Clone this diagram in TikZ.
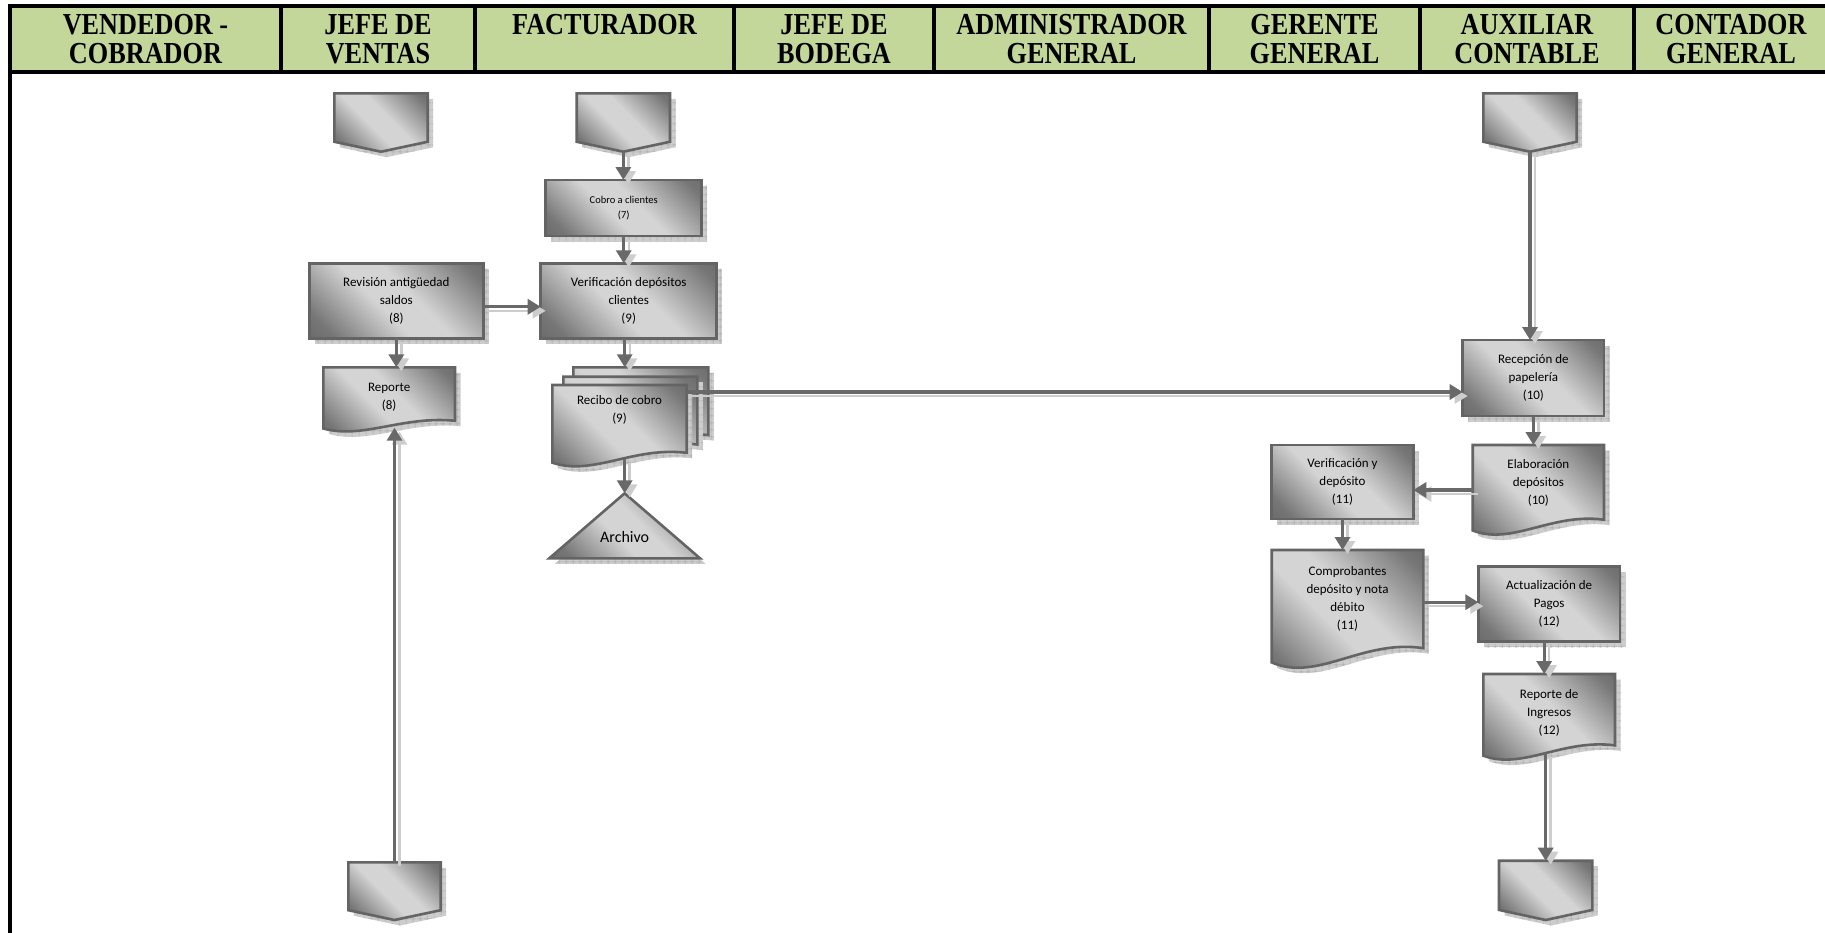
\documentclass[tikz,border=0pt]{standalone}
\usepackage{fontspec}
\setmainfont{Carlito}
\newfontfamily\hdrfont[FakeStretch=0.86]{Liberation Serif}
\usetikzlibrary{arrows.meta,patterns.meta}

\definecolor{hdrgreen}{RGB}{196,215,155}
\definecolor{edgegray}{RGB}{100,100,100}
\definecolor{sdark}{RGB}{88,88,88}
\definecolor{smid}{RGB}{118,118,118}
\definecolor{slight}{RGB}{212,212,212}
\definecolor{shdw}{RGB}{205,205,205}
\definecolor{shdwline}{RGB}{165,165,165}
\definecolor{flowgray}{RGB}{105,105,105}

\pgfdeclarehorizontalshading{steel}{100bp}{color(0bp)=(sdark); color(22bp)=(smid); color(44bp)=(slight); color(56bp)=(slight); color(80bp)=(smid); color(100bp)=(sdark)}

\tikzset{
  shapebody/.style={draw=edgegray, line width=2.6pt, line join=miter, shade, shading=steel, shading angle=45},
  shapeshadow/.style={preaction={fill=shdw}, pattern={Hatch[angle=0,distance=6.5pt,line width=0.5pt]}, pattern color=shdwline},
  txt/.style={font=\fontsize{13}{18}\selectfont, inner sep=0pt},
  smalltxt/.style={font=\fontsize{10.5}{15}\selectfont, inner sep=0pt},
  bigtxt/.style={font=\fontsize{16}{19}\selectfont, inner sep=0pt},
  hdr/.style={font=\hdrfont\bfseries\fontsize{30.5}{29}\selectfont, inner sep=0pt, anchor=base},
  flow/.style={draw=flowgray, line width=3.3pt, -{Triangle[width=15pt,length=13pt]}},
  flowshadow/.style={draw=shdw, line width=2.4pt, -{Triangle[width=15pt,length=13pt]}},
  frameline/.style={line width=4pt, draw=black},
}

% multi-line cell text
\newcommand\ml[1]{\begin{tabular}{@{}c@{}}#1\end{tabular}}
\newcommand\hl[1]{\begin{tabular}[t]{@{}c@{}}#1\end{tabular}}

% outlines of the flowchart symbols, given by top-left and bottom-right corners
\newcommand\boxpath[5]{\path[#1] (#2,#3) rectangle (#4,#5);}
\newcommand\docpath[5]{\path[#1] (#2,#3) -- (#4,#3) -- (#4,{#5-0.17*(#5-#3)})
  .. controls ({#2+0.6*(#4-#2)},{#5-0.25*(#5-#3)}) and ({#2+0.3*(#4-#2)},{#5+0.12*(#5-#3)}) .. (#2,{#5-0.05*(#5-#3)}) -- cycle;}
\newcommand\offpath[5]{\path[#1] (#2,#3) -- (#4,#3) -- (#4,{#3+0.83*(#5-#3)}) -- ({(#2+#4)/2},#5) -- (#2,{#3+0.83*(#5-#3)}) -- cycle;}
\newcommand\tripath[5]{\path[#1] ({(#2+#4)/2},#3) -- (#4,#5) -- (#2,#5) -- cycle;}

% named node covering a symbol
\newcommand\anchorbox[5]{\node[inner sep=0pt,outer sep=0pt,minimum width={(#4-#2)*1pt},minimum height={(#5-#3)*1pt}] (#1) at ({(#2+#4)/2},{(#3+#5)/2}) {};}

% symbol with its drop shadow and its named node
\newcommand\symb[6]{%
  #1{shapeshadow,shift={(5.5,5.5)}}{#3}{#4}{#5}{#6}%
  #1{shapebody}{#3}{#4}{#5}{#6}%
  \anchorbox{#2}{#3}{#4}{#5}{#6}}

% connector with its light shadow line
\newcommand\flowline[1]{%
  \begin{scope}[transform canvas={shift={(5pt,-4pt)}}]\draw[flowshadow] #1;\end{scope}
  \draw[flow] #1;}

\begin{document}
\begin{tikzpicture}[x=1pt,y=-1pt]
\useasboundingbox (0,0) rectangle (1825,932);

% ---- header row ----
\fill[hdrgreen] (10,6) rectangle (1832,71.5);
\draw[frameline] (8,6) -- (1832,6);
\draw[frameline] (10,4) -- (10,940);
\draw[frameline] (8,71.5) -- (1832,71.5);
\foreach \x in {281,475,734,934,1209,1420,1634}
  \draw[line width=3.6pt] (\x,6) -- (\x,71.5);

\node[hdr] (h1) at (145.5,34) {\hl{VENDEDOR -\\COBRADOR}};
\node[hdr] (h2) at (378,34) {\hl{JEFE DE\\VENTAS}};
\node[hdr] (h3) at (604.5,34) {\hl{FACTURADOR}};
\node[hdr] (h4) at (834,34) {\hl{JEFE DE\\BODEGA}};
\node[hdr] (h5) at (1071.5,34) {\hl{ADMINISTRADOR\\GENERAL}};
\node[hdr] (h6) at (1314.5,34) {\hl{GERENTE\\GENERAL}};
\node[hdr] (h7) at (1527,34) {\hl{AUXILIAR\\CONTABLE}};
\node[hdr] (h8) at (1731,34) {\hl{CONTADOR\\GENERAL}};

% ---- symbols ----
\symb\offpath{offTL}{334.3}{93.3}{427.7}{151.7}
\symb\offpath{offTF}{576.7}{93.3}{670}{151.7}
\symb\offpath{offTA}{1483.3}{93.3}{1576.7}{151.7}

\symb\boxpath{cobro}{545.7}{180}{701.7}{236}
\symb\boxpath{rev}{309.3}{263.3}{483.3}{338.3}
\symb\boxpath{ver}{540.7}{263.3}{716.7}{338.3}
\symb\docpath{rep8}{323.3}{367.3}{455}{431.7}

\symb\docpath{recB}{573.3}{367.3}{708.3}{449}
\symb\docpath{recM}{563.3}{376.7}{697.3}{458.4}
\symb\docpath{recF}{552.3}{385}{686.7}{466.7}
\symb\tripath{arch}{549.3}{493.3}{700}{558.3}

\symb\boxpath{recep}{1462.7}{340}{1604}{416}
\symb\docpath{elab}{1472.7}{445}{1604}{535}
\symb\boxpath{verdep}{1271.7}{445}{1413.3}{519}
\symb\docpath{comp}{1271.7}{550}{1423.3}{668.3}
\symb\boxpath{act}{1478.3}{566.7}{1620}{641.7}
\symb\docpath{repIng}{1483.3}{674}{1615}{760}

\symb\offpath{offBR}{1499}{860.7}{1592.3}{920}
\symb\offpath{offBL}{348.3}{862.3}{440.7}{920}

% ---- texts ----
\node[smalltxt] (cobro-t) at (cobro) {\ml{Cobro a clientes\\(7)}};
\node[txt] (rev-t) at (rev) {\ml{Revisión antigüedad\\saldos\\(8)}};
\node[txt] (ver-t) at (ver) {\ml{Verificación depósitos\\clientes\\(9)}};
\node[txt] (rep8-t) at ([yshift=3pt]rep8.center) {\ml{Reporte\\(8)}};
\node[txt] (recF-t) at ([yshift=16pt]recF.center) {\ml{Recibo de cobro\\(9)}};
\node[bigtxt] (arch-t) at ([yshift=-11pt]arch.center) {Archivo};
\node[txt] (recep-t) at (recep) {\ml{Recepción de\\papelería\\(10)}};
\node[txt] (elab-t) at ([yshift=7pt]elab.center) {\ml{Elaboración\\depósitos\\(10)}};
\node[txt] (verdep-t) at (verdep) {\ml{Verificación y\\depósito\\(11)}};
\node[txt] (comp-t) at ([yshift=10pt]comp.center) {\ml{Comprobantes\\depósito y nota\\débito\\(11)}};
\node[txt] (act-t) at (act) {\ml{Actualización de\\Pagos\\(12)}};
\node[txt] (repIng-t) at ([yshift=4.5pt]repIng.center) {\ml{Reporte de\\Ingresos\\(12)}};

% ---- connectors ----
\flowline{(offTF.south) -- (offTF.south |- cobro.north)}
\flowline{(cobro.south) -- (cobro.south |- ver.north)}
\flowline{([yshift=-6pt]rev.east) -- ([yshift=-6pt]rev.east -| ver.west)}
\flowline{(rev.south) -- (rev.south |- rep8.north)}
\flowline{([xshift=-4pt]ver.south) -- ([xshift=-4pt]ver.south |- recB.north)}
\flowline{([yshift=8pt]arch.north |- recF.south) -- (arch.north)}
\flowline{([yshift=-7pt]recF.north east) -- ([yshift=-7pt]recF.north east -| recep.west)}
\flowline{(offBL.north) -- ([yshift=4pt]offBL.north |- rep8.south)}
\flowline{(offTA.south) -- (offTA.south |- recep.north)}
\flowline{(recep.south) -- (recep.south |- elab.north)}
\flowline{(elab.west) -- (elab.west -| verdep.east)}
\flowline{(verdep.south) -- (verdep.south |- comp.north)}
\flowline{([yshift=2pt]act.west -| comp.east) -- ([yshift=2pt]act.west)}
\flowline{([xshift=-5pt]act.south) -- ([xshift=-5pt]act.south |- repIng.north)}
\flowline{([yshift=7pt]offBR.north |- repIng.south) -- (offBR.north)}
\end{tikzpicture}
\end{document}
